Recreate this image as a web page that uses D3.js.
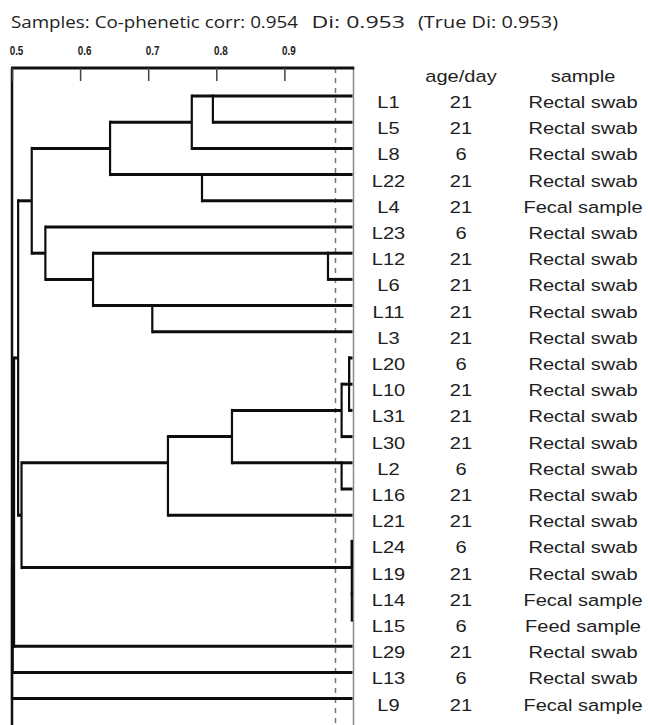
<!DOCTYPE html>
<html>
<head>
<meta charset="utf-8">
<script src="https://cdn.jsdelivr.net/npm/d3@7"></script>
<style>
  body { margin: 0; background: #fff; }
  svg { display: block; }
</style>
</head>
<body>
<svg id="chart" width="648" height="725"></svg>
<script>
// leaf order, top to bottom
var leaves = ["L1", "L5", "L8", "L22", "L4", "L23", "L12", "L6", "L11", "L3", "L20", "L10",
  "L31", "L30", "L2", "L16", "L21", "L24", "L19", "L14", "L15", "L29", "L13", "L9"];
var ages = [21, 21, 6, 21, 21, 6, 21, 21, 21, 21, 6, 21, 21, 21, 6, 21, 21, 6, 21, 21, 6, 21, 6, 21];
var samples = ["Rectal swab", "Rectal swab", "Rectal swab", "Rectal swab", "Fecal sample",
  "Rectal swab", "Rectal swab", "Rectal swab", "Rectal swab", "Rectal swab", "Rectal swab",
  "Rectal swab", "Rectal swab", "Rectal swab", "Rectal swab", "Rectal swab", "Rectal swab",
  "Rectal swab", "Rectal swab", "Fecal sample", "Feed sample", "Rectal swab", "Rectal swab",
  "Fecal sample"];

// merge steps: [child a, child b, similarity]; numbers point to earlier steps
var merges = [
  ["L1", "L5", 0.795],
  [0, "L8", 0.764],
  ["L22", "L4", 0.779],
  [1, 2, 0.644],
  ["L12", "L6", 0.964],
  ["L11", "L3", 0.706],
  [4, 5, 0.619],
  ["L23", 6, 0.549],
  [3, 7, 0.529],
  ["L20", "L10", 0.995],
  [9, "L31", 0.995],
  [10, "L30", 0.984],
  ["L2", "L16", 0.984],
  [11, 12, 0.823],
  [13, "L21", 0.729],
  ["L24", "L19", 0.999],
  ["L14", "L15", 0.999],
  [15, 16, 0.999],
  [14, 17, 0.514],
  [8, 18, 0.509],
  [19, "L29", 0.503],
  [20, "L13", 0.501],
  [21, "L9", 0.500]
];

var tickValues = [0.5, 0.6, 0.7, 0.8, 0.9];
var cutoff = 0.975;
var titleParts = ["Samples: Co-phenetic corr: 0.954", "Di: 0.953", "(True Di: 0.953)"];
var headers = ["age/day", "sample"];

var svg = d3.select("#chart");

var x = d3.scaleLinear().domain([0.5, 1.0]).range([12, 352.5]);
var y = d3.scaleLinear().domain([0, leaves.length - 1]).range([96, 698.6]);

var axisY = 68, rightX = 353.5;

// title
var titleX = [[11, 287], [311.5, 93.5], [418, 140]];
svg.selectAll("text.title").data(titleParts).enter().append("text")
  .attr("class", "title")
  .attr("x", function (d, i) { return titleX[i][0]; })
  .attr("y", 28)
  .attr("textLength", function (d, i) { return titleX[i][1]; })
  .attr("lengthAdjust", "spacingAndGlyphs")
  .style("font-family", "'Open Sans', 'Noto Sans', sans-serif")
  .style("font-size", "16px")
  .style("fill", "#222")
  .text(function (d) { return d; });

// frame
svg.append("line").attr("x1", rightX).attr("x2", rightX).attr("y1", axisY).attr("y2", 740)
  .attr("stroke", "#8a8a8a").attr("stroke-width", 1.5);
svg.append("line").attr("x1", 12).attr("x2", 12).attr("y1", axisY).attr("y2", 740)
  .attr("stroke", "#111").attr("stroke-width", 2.5);

// cut-off line
svg.append("line").attr("x1", x(cutoff)).attr("x2", x(cutoff)).attr("y1", axisY).attr("y2", 740)
  .attr("stroke", "#777").attr("stroke-width", 1.5).attr("stroke-dasharray", "5,5");

// top axis
var axis = d3.axisTop(x).tickValues(tickValues).tickSizeInner(-13).tickSizeOuter(0)
  .tickPadding(13).tickFormat(d3.format(".1f"));
var ag = svg.append("g").attr("transform", "translate(0," + axisY + ")").call(axis);
ag.select(".domain").attr("d", "M11,0H" + (rightX + 0.75))
  .attr("stroke", "#111").attr("stroke-width", 3.2);
ag.selectAll(".tick line").attr("stroke", "#444").attr("stroke-width", 1.5);
ag.selectAll(".tick text")
  .attr("transform", "translate(4,0) scale(0.76,1)")
  .style("font-family", "'Liberation Sans', Arial, sans-serif")
  .style("font-weight", "bold")
  .style("font-size", "13px")
  .style("fill", "#222");

// tree layout: leaves sit at similarity 1, joins sit at floor of the mean row of children
var pos = {};
leaves.forEach(function (d, i) { pos[d] = { row: i, v: 1.0 }; });
var nodes = [];
function getNode(k) { return typeof k === "number" ? nodes[k] : pos[k]; }
merges.forEach(function (m, i) {
  var a = getNode(m[0]), b = getNode(m[1]);
  nodes[i] = { a: a, b: b, v: m[2], row: Math.floor((a.row + b.row) / 2) };
});

var tree = svg.append("g").attr("fill", "none").attr("stroke", "#0d0d0d");

// horizontal arms: each child from its parent's join to its own position
var arms = [];
nodes.forEach(function (n) {
  arms.push({ from: n.v, to: n.a.v, row: n.a.row });
  arms.push({ from: n.v, to: n.b.v, row: n.b.row });
});
tree.selectAll("line.arm").data(arms).enter().append("line")
  .attr("class", "arm")
  .attr("x1", function (d) { return x(d.from); })
  .attr("x2", function (d) { return x(d.to); })
  .attr("y1", function (d) { return y(d.row); })
  .attr("y2", function (d) { return y(d.row); })
  .attr("stroke-width", 3);

// vertical joins
tree.selectAll("line.join").data(nodes).enter().append("line")
  .attr("class", "join")
  .attr("x1", function (d) { return x(d.v); })
  .attr("x2", function (d) { return x(d.v); })
  .attr("y1", function (d) { return y(d.a.row) - 1.5; })
  .attr("y2", function (d) { return y(d.b.row) + 1.5; })
  .attr("stroke-width", 2.2);

// labels
var labelFont = "'Liberation Sans', Arial, sans-serif";
var cols = [
  { cx: 388.5, values: leaves },
  { cx: 461, values: ages },
  { cx: 583, values: samples }
];
function putText(g, cx, row, txt) {
  g.append("text")
    .attr("transform", "translate(" + cx + "," + (y(row) + 12) + ") scale(1.18,1)")
    .attr("text-anchor", "middle")
    .style("font-family", labelFont)
    .style("font-size", "17px")
    .style("fill", "#1e1e1e")
    .text(txt);
}
var lab = svg.append("g");
cols.forEach(function (c) {
  c.values.forEach(function (v, i) { putText(lab, c.cx, i, v); });
});
putText(lab, cols[1].cx, -1, headers[0]);
putText(lab, cols[2].cx, -1, headers[1]);
</script>
</body>
</html>
